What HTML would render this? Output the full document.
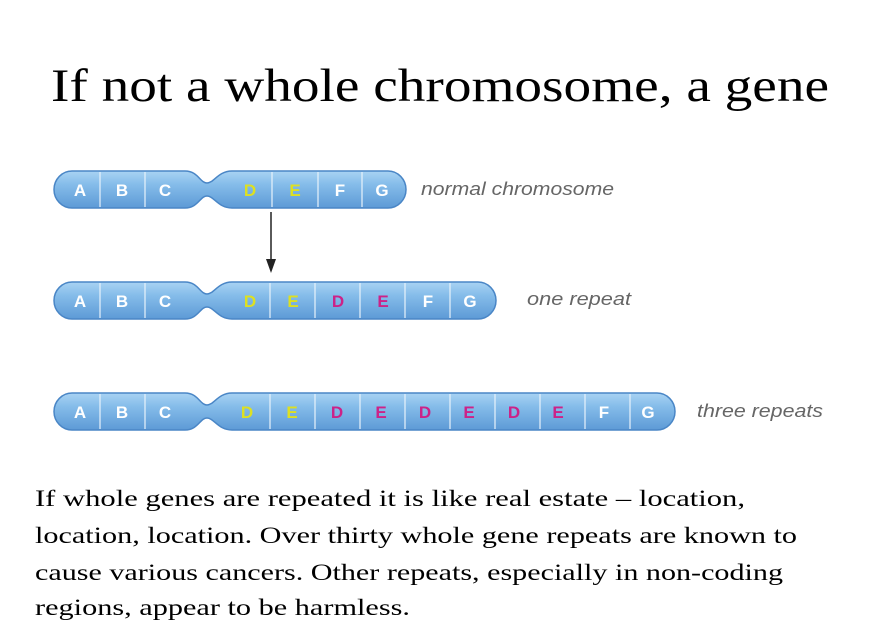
<!DOCTYPE html>
<html><head><meta charset="utf-8"><style>
html,body{margin:0;padding:0;background:#fff;}
svg{display:block;}
</style></head><body>
<svg width="895" height="639" viewBox="0 0 895 639" xmlns="http://www.w3.org/2000/svg">
<defs>
<linearGradient id="g" x1="0" y1="0" x2="0" y2="1">
<stop offset="0" stop-color="#a9d3f3"/>
<stop offset="0.35" stop-color="#86bdea"/>
<stop offset="1" stop-color="#5d9ad6"/>
</linearGradient>
</defs>
<text x="440" y="101" text-anchor="middle" font-family="Liberation Serif, serif" font-size="47" textLength="778" lengthAdjust="spacingAndGlyphs" fill="#000">If not a whole chromosome, a gene</text>

<g id="c1">
<path d="M72,171 L185,171 C198,171 200,183 207,183 C214,183 218,171 232,171 L388,171 A18,18.5 0 0 1 388,208 L232,208 C218,208 214,196 207,196 C200,196 198,208 185,208 L72,208 A18,18.5 0 0 1 72,171 Z" fill="url(#g)" stroke="#4a86c6" stroke-width="1.5"/>
<g stroke="#e8f2fb" stroke-width="1.2"><line x1="100" y1="172" x2="100" y2="207"/><line x1="145" y1="172" x2="145" y2="207"/><line x1="272" y1="172" x2="272" y2="207"/><line x1="318" y1="172" x2="318" y2="207"/><line x1="362" y1="172" x2="362" y2="207"/></g>
<g font-family="Liberation Sans, sans-serif" font-weight="bold" font-size="17" text-anchor="middle">
<text x="80" y="196" fill="#fff">A</text><text x="122" y="196" fill="#fff">B</text><text x="165" y="196" fill="#fff">C</text>
<text x="250" y="196" fill="#dde022">D</text><text x="295" y="196" fill="#dde022">E</text><text x="340" y="196" fill="#fff">F</text><text x="382" y="196" fill="#fff">G</text>
</g>
</g>
<text x="421" y="195" font-family="Liberation Sans, sans-serif" font-style="italic" font-size="18" fill="#666" textLength="193" lengthAdjust="spacingAndGlyphs">normal chromosome</text>

<line x1="271" y1="212" x2="271" y2="262" stroke="#222" stroke-width="1.5"/>
<path d="M266,259 L271,273 L276,259 Z" fill="#222"/>

<g transform="translate(0,111)">
<path d="M72,171 L185,171 C198,171 200,183 207,183 C214,183 218,171 232,171 L478,171 A18,18.5 0 0 1 478,208 L232,208 C218,208 214,196 207,196 C200,196 198,208 185,208 L72,208 A18,18.5 0 0 1 72,171 Z" fill="url(#g)" stroke="#4a86c6" stroke-width="1.5"/>
<g stroke="#e8f2fb" stroke-width="1.2"><line x1="100" y1="172" x2="100" y2="207"/><line x1="145" y1="172" x2="145" y2="207"/><line x1="270" y1="172" x2="270" y2="207"/><line x1="315" y1="172" x2="315" y2="207"/><line x1="360" y1="172" x2="360" y2="207"/><line x1="405" y1="172" x2="405" y2="207"/><line x1="450" y1="172" x2="450" y2="207"/></g>
<g font-family="Liberation Sans, sans-serif" font-weight="bold" font-size="17" text-anchor="middle">
<text x="80" y="196" fill="#fff">A</text><text x="122" y="196" fill="#fff">B</text><text x="165" y="196" fill="#fff">C</text>
<text x="250" y="196" fill="#dde022">D</text><text x="293" y="196" fill="#dde022">E</text><text x="338" y="196" fill="#cc2288">D</text><text x="383" y="196" fill="#cc2288">E</text><text x="428" y="196" fill="#fff">F</text><text x="470" y="196" fill="#fff">G</text>
</g>
</g>
<text x="527" y="305" font-family="Liberation Sans, sans-serif" font-style="italic" font-size="18" fill="#666" textLength="104" lengthAdjust="spacingAndGlyphs">one repeat</text>

<g transform="translate(0,222)">
<path d="M72,171 L185,171 C198,171 200,183 207,183 C214,183 218,171 232,171 L657,171 A18,18.5 0 0 1 657,208 L232,208 C218,208 214,196 207,196 C200,196 198,208 185,208 L72,208 A18,18.5 0 0 1 72,171 Z" fill="url(#g)" stroke="#4a86c6" stroke-width="1.5"/>
<g stroke="#e8f2fb" stroke-width="1.2"><line x1="100" y1="172" x2="100" y2="207"/><line x1="145" y1="172" x2="145" y2="207"/><line x1="270" y1="172" x2="270" y2="207"/><line x1="315" y1="172" x2="315" y2="207"/><line x1="360" y1="172" x2="360" y2="207"/><line x1="405" y1="172" x2="405" y2="207"/><line x1="450" y1="172" x2="450" y2="207"/><line x1="495" y1="172" x2="495" y2="207"/><line x1="540" y1="172" x2="540" y2="207"/><line x1="585" y1="172" x2="585" y2="207"/><line x1="630" y1="172" x2="630" y2="207"/></g>
<g font-family="Liberation Sans, sans-serif" font-weight="bold" font-size="17" text-anchor="middle">
<text x="80" y="196" fill="#fff">A</text><text x="122" y="196" fill="#fff">B</text><text x="165" y="196" fill="#fff">C</text>
<text x="247" y="196" fill="#dde022">D</text><text x="292" y="196" fill="#dde022">E</text>
<text x="337" y="196" fill="#cc2288">D</text><text x="381" y="196" fill="#cc2288">E</text>
<text x="425" y="196" fill="#cc2288">D</text><text x="469" y="196" fill="#cc2288">E</text>
<text x="514" y="196" fill="#cc2288">D</text><text x="558" y="196" fill="#cc2288">E</text>
<text x="604" y="196" fill="#fff">F</text><text x="648" y="196" fill="#fff">G</text>
</g>
</g>
<text x="697" y="417" font-family="Liberation Sans, sans-serif" font-style="italic" font-size="18" fill="#666" textLength="126" lengthAdjust="spacingAndGlyphs">three repeats</text>

<g font-family="Liberation Serif, serif" font-size="23" fill="#000">
<text x="35" y="506" textLength="710" lengthAdjust="spacingAndGlyphs">If whole genes are repeated it is like real estate – location,</text>
<text x="35" y="543" textLength="762" lengthAdjust="spacingAndGlyphs">location, location. Over thirty whole gene repeats are known to</text>
<text x="35" y="580" textLength="748" lengthAdjust="spacingAndGlyphs">cause various cancers. Other repeats, especially in non-coding</text>
<text x="35" y="615" textLength="375" lengthAdjust="spacingAndGlyphs">regions, appear to be harmless.</text>
</g>
</svg>
</body></html>
